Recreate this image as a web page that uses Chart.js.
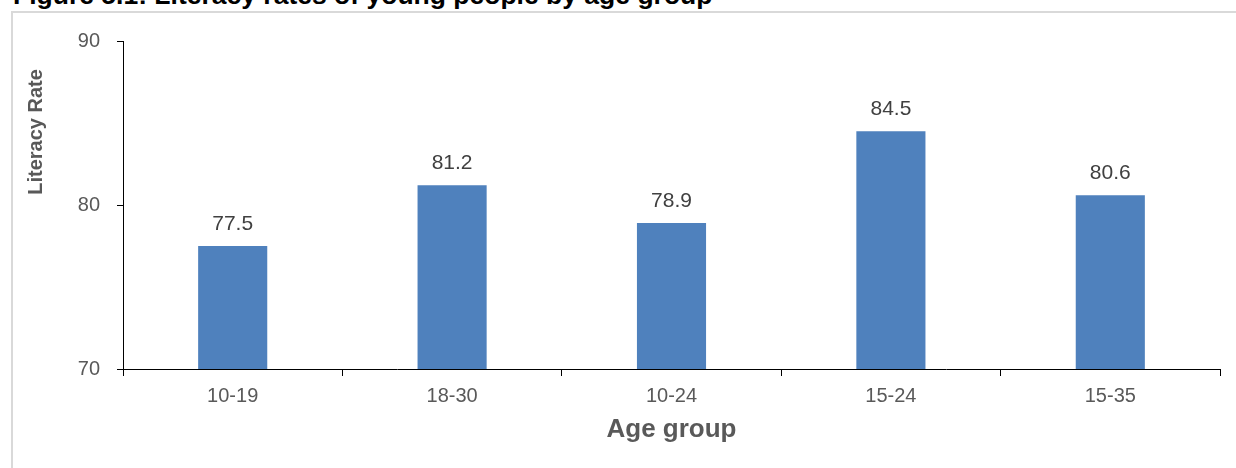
<!DOCTYPE html>
<html>
<head>
<meta charset="utf-8">
<script src="https://cdn.jsdelivr.net/npm/chart.js@4.4.1/dist/chart.umd.min.js"></script>
<style>
  html, body { margin: 0; padding: 0; background: #fff; overflow: hidden; }
  #wrap { position: relative; width: 1236px; height: 468px; overflow: hidden; }
  #frame { position: absolute; left: 11px; top: 11px; width: 1400px; height: 600px;
           border-left: 2px solid #d9d9d9; border-top: 2px solid #d9d9d9; }
  #heading { position: absolute; left: 13px; top: -18px; white-space: nowrap;
             font: bold 26.5px "Liberation Sans", Arial, sans-serif; line-height: 27px; color: #000; }
  canvas { position: absolute; left: 0; top: 0; }
</style>
</head>
<body>
<div id="wrap">
  <div id="frame"></div>
  <div id="heading">Figure 5.1: Literacy rates of young people by age group</div>
  <canvas id="chart" width="1236" height="468"></canvas>
</div>
<script>
// Age groups and literacy rates (%)
const ageGroups = ['10-19', '18-30', '10-24', '15-24', '15-35'];
const literacyRates = [77.5, 81.2, 78.9, 84.5, 80.6];
const yTicks = [70, 80, 90];

const xTitle = 'Age group';
const yTitle = 'Literacy Rate';

const FONT = '"Liberation Sans", Arial, sans-serif';

// Value labels above the bars plus both axis titles
const annotate = {
  id: 'annotate',
  afterDatasetsDraw(chart) {
    const ctx = chart.ctx;
    const meta = chart.getDatasetMeta(0);
    ctx.save();
    ctx.fillStyle = '#404040';
    ctx.font = '21px ' + FONT;
    ctx.textAlign = 'center';
    ctx.textBaseline = 'alphabetic';
    meta.data.forEach((bar, i) => {
      ctx.fillText(literacyRates[i].toFixed(1), bar.x, bar.y - 16);
    });

    const area = chart.chartArea;
    ctx.fillStyle = '#595959';
    ctx.font = 'bold 26px ' + FONT;
    ctx.fillText(xTitle, (area.left + area.right) / 2, 437);

    ctx.translate(42, 132);
    ctx.rotate(-Math.PI / 2);
    ctx.font = 'bold 20px ' + FONT;
    ctx.fillText(yTitle, 0, 0);
    ctx.restore();
  }
};

new Chart(document.getElementById('chart'), {
  type: 'bar',
  data: {
    labels: ageGroups,
    datasets: [{
      data: literacyRates,
      backgroundColor: '#4F81BD',
      borderWidth: 0,
      categoryPercentage: 1,
      barPercentage: 0.315
    }]
  },
  options: {
    responsive: false,
    animation: false,
    layout: { padding: { left: 0, right: 16, top: 41, bottom: 0 } },
    plugins: { legend: { display: false }, tooltip: { enabled: false }, title: { display: false } },
    scales: {
      x: {
        offset: true,
        grid: { offset: true, drawOnChartArea: false, drawTicks: true, tickLength: 7, color: '#000', tickColor: '#000' },
        border: { display: true, color: '#000', width: 1 },
        ticks: { color: '#595959', font: { family: FONT, size: 20 }, padding: 8, maxRotation: 0 },
        afterFit(scale) { scale.height = 99; }
      },
      y: {
        min: 70,
        max: 90,
        afterBuildTicks(scale) { scale.ticks = yTicks.map(v => ({ value: v })); },
        grid: { drawOnChartArea: false, drawTicks: true, tickLength: 6, color: '#000', tickColor: '#000' },
        border: { display: true, color: '#000', width: 1 },
        ticks: { color: '#595959', font: { family: FONT, size: 20 }, padding: 17 },
        afterFit(scale) { scale.width = 123; }
      }
    }
  },
  plugins: [annotate]
});
</script>
</body>
</html>
